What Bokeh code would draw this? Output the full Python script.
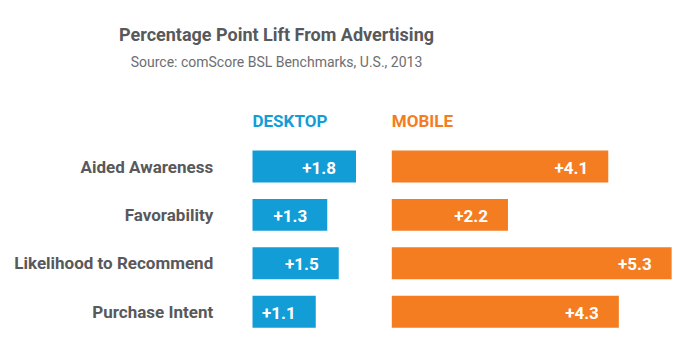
from bokeh.plotting import figure
from bokeh.models import Range1d
from bokeh.core.properties import value
from bokeh.embed import file_html
from bokeh.resources import INLINE

# ---- data ----
title = "Percentage Point Lift From Advertising"
subtitle = "Source: comScore BSL Benchmarks, U.S., 2013"
categories = ["Aided Awareness", "Favorability", "Likelihood to Recommend", "Purchase Intent"]
series_names = ["DESKTOP", "MOBILE"]
desktop = [1.8, 1.3, 1.5, 1.1]
mobile = [4.1, 2.2, 5.3, 4.3]

# ---- style / layout ----
W, H = 696, 351
FONT = "Roboto"
BLUE = "#139DD7"
ORANGE = "#F47D22"
GRAY = "#58595B"
SUBGRAY = "#6D6E71"

desk_x0, desk_ppu = 252.0, 57.5     # bar origin (px) and px per unit
mob_x0, mob_ppu = 391.3, 52.8
row0, row_step = 166.0, 48.4        # first row centre (px) and row spacing
bar_h = 0.66
header_row = -0.94
cat_right = 212.7
title_x, title_y, sub_y = 276, 33.6, 61.3

ys = list(range(len(categories)))

p = figure(width=W, height=H, output_backend="svg", toolbar_location=None, tools="",
           title=None, x_range=Range1d(0, W), y_range=Range1d(H, 0),
           x_axis_location=None, y_axis_location=None, min_border=0)
p.extra_x_ranges = {
    "desk": Range1d(-desk_x0 / desk_ppu, (W - desk_x0) / desk_ppu),
    "mob": Range1d(-mob_x0 / mob_ppu, (W - mob_x0) / mob_ppu),
}
p.extra_y_ranges = {"row": Range1d((H - row0) / row_step, -row0 / row_step)}
p.xgrid.grid_line_color = None
p.ygrid.grid_line_color = None
p.outline_line_color = None
p.background_fill_color = "white"
p.border_fill_color = "white"

for name, vals, col, rng in [(series_names[0], desktop, BLUE, "desk"),
                             (series_names[1], mobile, ORANGE, "mob")]:
    p.hbar(y=ys, left=0, right=vals, height=bar_h, fill_color=col, line_color=None,
           x_range_name=rng, y_range_name="row")
    p.text(x=vals, y=ys, text=[f"+{v:.1f}" for v in vals], x_range_name=rng, y_range_name="row",
           x_offset=-20, y_offset=1, text_align="right", text_baseline="middle",
           text_color="white", text_font=value(FONT), text_font_style="bold",
           text_font_size="17px")
    p.text(x=[0], y=[header_row], text=[name], x_range_name=rng, y_range_name="row",
           text_align="left", text_baseline="middle", text_color=col,
           text_font=value(FONT), text_font_style="bold", text_font_size="17px")

p.text(x=cat_right, y=ys, text=categories, y_range_name="row",
       text_align="right", text_baseline="middle", text_color=GRAY,
       text_font=value(FONT), text_font_style="bold", text_font_size="17px")

p.text(x=[title_x], y=[title_y], text=[title], text_align="center", text_baseline="alphabetic",
       text_color=GRAY, text_font=value(FONT), text_font_style="bold", text_font_size="18px")
p.text(x=[title_x], y=[sub_y], text=[subtitle], text_align="center", text_baseline="alphabetic",
       text_color=SUBGRAY, text_font=value(FONT), text_font_style="normal", text_font_size="14px")

open("out.html", "w").write(file_html(p, INLINE))
